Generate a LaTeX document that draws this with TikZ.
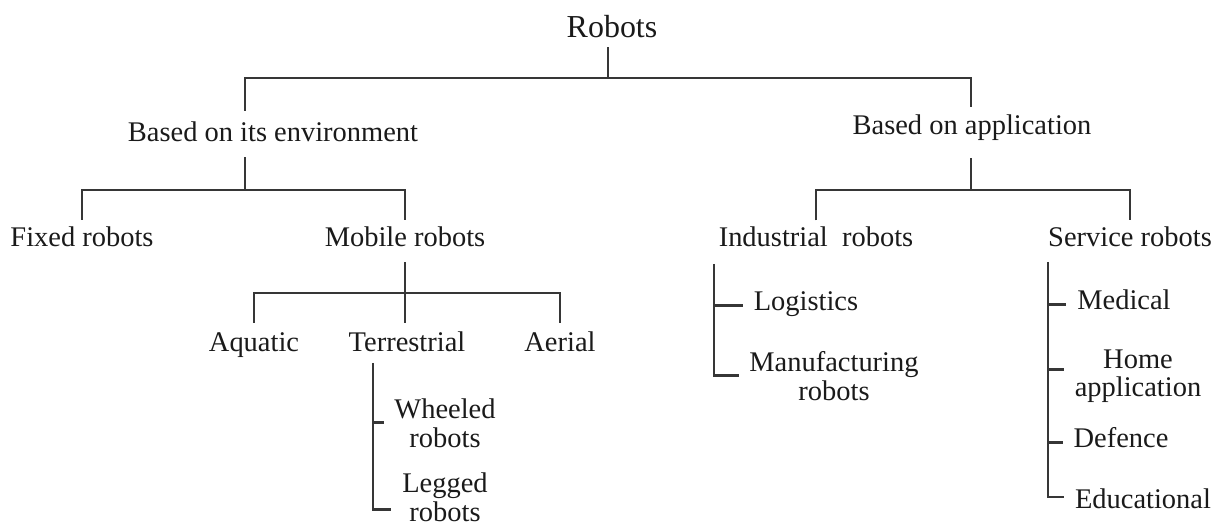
\documentclass[tikz,border=0pt]{standalone}
\usepackage{fontspec}
\setmainfont{Liberation Serif}
\definecolor{inkblack}{HTML}{1A1A1A}
\definecolor{linegray}{HTML}{363636}
\newcommand{\lblfont}{\fontsize{16.2}{16.4}\selectfont}

\tikzset{
  lbl/.style={inner sep=0pt, anchor=base, text height=10.5pt, text depth=4pt,
    font=\lblfont, text=inkblack},
  multi/.style={inner sep=0pt, anchor=base, align=center, font=\lblfont, text=inkblack},
  link/.style={draw=linegray, line width=1.6pt},
  tick/.style={link, shorten >=6pt},
}

\begin{document}
\begin{tikzpicture}[x=0.02cm, y=-0.02cm]
\useasboundingbox (0,0) rectangle (1224,523);

\node[lbl, font=\fontsize{18.2}{18.4}\selectfont] (robots) at (612,38) {Robots};

\node[lbl] (env) at (273,142) {Based on its environment};
\node[lbl] (app) at (972,135) {Based on application};

\node[lbl] (fixed) at (82,247) {Fixed robots};
\node[lbl] (mobile) at (405,247) {Mobile robots};
\node[lbl] (indus) at (816,247) {Industrial\ \ robots};
\node[lbl] (service) at (1130,247) {Service robots};

\node[lbl] (aquatic) at (254,352) {Aquatic};
\node[lbl] (terr) at (407,352) {Terrestrial};
\node[lbl] (aerial) at (560,352) {Aerial};

% multi-line nodes sit on the baseline of their last line
\node[multi] (wheeled) at (445,447) {Wheeled\\robots};
\node[multi] (legged) at (445,521) {Legged\\robots};

\node[lbl] (logist) at (806,311) {Logistics};
\node[multi] (manuf) at (834,400) {Manufacturing\\robots};

\node[lbl] (medical) at (1124,310) {Medical};
\node[multi] (home) at (1138,397) {Home\\application};
\node[lbl] (defence) at (1121,448) {Defence};
\node[lbl] (edu) at (1143,508) {Educational};

% junctions of the bars and brackets
\coordinate (bar0) at (608,78);
\coordinate (bar1) at (245,190);
\coordinate (bar2) at (971,190);
\coordinate (bar3) at (406,293);
\coordinate (tspine) at (373,363);
\coordinate (ispine) at (714,264);
\coordinate (sspine) at (1048,262);

% top level
\draw[link, shorten <=1pt] (robots.south -| bar0) -- (bar0);
\draw[link, shorten <=7pt, shorten >=5pt] (env.north -| bar1) |- (bar0) -| (app.north -| bar2);

% environment
\draw[link, shorten <=4.5pt] (env.south -| bar1) -- (bar1);
\draw[link, shorten <=4.8pt, shorten >=4.8pt] (fixed.north) |- (bar1) -| (mobile.north);

% application
\draw[link, shorten <=9pt] (app.south -| bar2) -- (bar2);
\draw[link, shorten <=4.5pt, shorten >=4.5pt] (indus.north) |- (bar2) -| (service.north);

% mobile robots
\draw[link, shorten <=4.5pt, shorten >=6pt] (mobile.south) -- (mobile.south |- terr.north);
\draw[link, shorten <=6pt, shorten >=6pt] (aquatic.north) |- (bar3) -| (aerial.north);

% terrestrial
\draw[tick] (tspine) |- ([yshift=-7pt]legged.west);
\draw[tick] (tspine |- wheeled.west) -- (wheeled.west);

% industrial
\draw[tick] (ispine) |- (manuf.west);
\draw[tick] (ispine |- logist.west) -- (logist.west);

% service
\draw[tick] (sspine) |- ([yshift=3pt]edu.west);
\draw[tick] (sspine |- medical.west) -- (medical.west);
\draw[tick] ([yshift=4pt]sspine |- home.west) -- ([yshift=4pt]home.west);
\draw[tick] (sspine |- defence.west) -- (defence.west);
\end{tikzpicture}
\end{document}
